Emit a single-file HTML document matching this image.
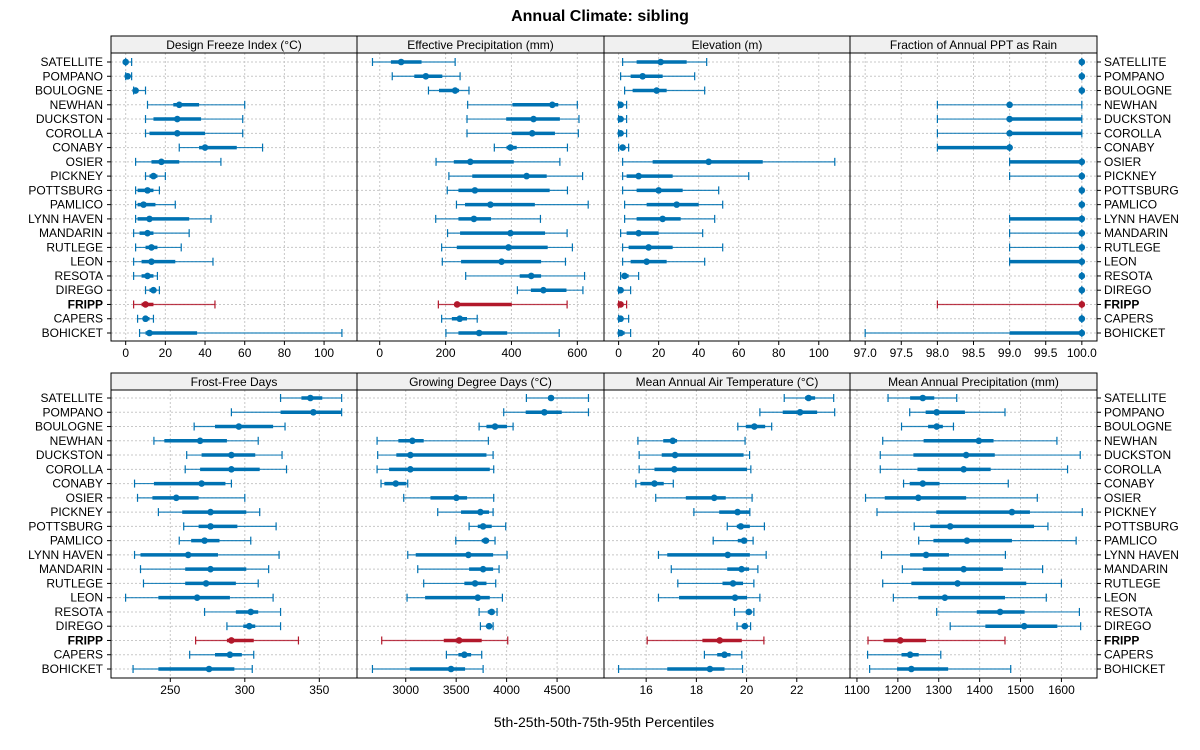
<!DOCTYPE html>
<html><head><meta charset="utf-8"><style>
html,body{margin:0;padding:0;background:#fff;}
svg{display:block;font-family:"Liberation Sans",sans-serif;}
</style></head><body>
<svg id="chart" width="1200" height="750" viewBox="0 0 1200 750" xmlns="http://www.w3.org/2000/svg">
<text x="600" y="21" text-anchor="middle" font-size="16" font-weight="bold">Annual Climate: sibling</text>
<text x="604" y="727" text-anchor="middle" font-size="14">5th-25th-50th-75th-95th Percentiles</text>
<g id="root"></g>
</svg>
<script>
const sites = ["SATELLITE","POMPANO","BOULOGNE","NEWHAN","DUCKSTON","COROLLA","CONABY","OSIER","PICKNEY","POTTSBURG","PAMLICO","LYNN HAVEN","MANDARIN","RUTLEGE","LEON","RESOTA","DIREGO","FRIPP","CAPERS","BOHICKET"];
const highlight = "FRIPP";
const dfi = [[0,0,0,0,3],[0,1,1,2,3],[4,4,5,6,10],[11,24,27,37,60],[10,14,26,38,59],[10,12,26,40,59],[27,37,40,56,69],[5,13,18,27,48],[10,12,14,16,20],[5,6,11,14,17],[5,6,9,15,25],[5,6,12,32,43],[4,7,11,14,32],[5,10,13,16,28],[4,8,13,25,44],[4,8,11,14,16],[10,12,14,15,17],[4,8,10,14,45],[6,9,10,12,14],[7,10,12,36,109]];
const effPpt = [[-22,34,65,127,229],[38,105,140,190,244],[148,180,229,241,271],[267,403,524,542,600],[265,384,467,547,605],[265,401,463,532,603],[348,385,397,416,570],[171,225,275,407,547],[210,281,446,507,616],[205,239,289,516,570],[233,259,336,471,633],[170,239,286,338,488],[206,244,397,502,569],[188,234,391,510,585],[190,247,370,490,564],[261,425,460,490,622],[418,459,497,567,617],[178,229,235,401,569],[188,219,243,265,296],[201,239,302,387,545]];
const elev = [[2,9,21,34,44],[1,6,12,22,38],[3,7,19,24,43],[0,0.3,1,1.7,4],[0,0.3,1,1.7,4],[0,0.3,1,1.7,4],[0,1,2,3,5],[2,17,45,72,108],[2,4,10,27,65],[2,9,20,32,50],[3,14,29,40,52],[3,9,22,31,48],[1,4,10,20,42],[2,5,15,27,52],[2,6,14,24,43],[1,2,3,5,10],[0,0.5,1,2,6],[0,0.5,1,2,4],[0,0.5,1,2,5],[0,0.5,1,3,6]];
const fracRain = [[100,100,100,100,100],[100,100,100,100,100],[100,100,100,100,100],[98,99,99,99,100],[98,99,99,100,100],[98,99,99,100,100],[98,98,99,99,99],[99,99,100,100,100],[99,100,100,100,100],[100,100,100,100,100],[100,100,100,100,100],[99,99,100,100,100],[99,100,100,100,100],[99,100,100,100,100],[99,99,100,100,100],[100,100,100,100,100],[100,100,100,100,100],[98,100,100,100,100],[100,100,100,100,100],[97,99,100,100,100]];
const ffd = [[324,338,344,352,365],[291,324,346,365,365],[266,280,296,319,327],[239,246,270,288,309],[261,271,291,307,325],[260,270,291,310,328],[226,239,271,287,291],[228,238,254,269,300],[242,258,277,301,310],[259,269,277,295,321],[256,264,273,283,304],[226,230,262,282,323],[230,260,277,301,316],[232,260,274,294,309],[220,242,268,290,319],[273,294,304,309,324],[288,299,303,307,324],[267,288,291,306,336],[263,280,290,298,306],[225,242,276,293,305]];
const gdd = [[4196,4414,4440,4467,4811],[3971,4189,4374,4546,4811],[3727,3800,3885,4004,4064],[2716,2927,3066,3178,3819],[2722,2907,3046,3800,3866],[2716,2835,3046,3833,3872],[2755,2788,2901,3007,3020],[2980,3245,3502,3608,3872],[3317,3548,3740,3826,3866],[3628,3714,3767,3852,3991],[3496,3753,3793,3826,3885],[3020,3099,3621,3866,4004],[3119,3628,3767,3866,3925],[3178,3581,3687,3800,3892],[3013,3192,3714,3833,3958],[3727,3813,3852,3879,3905],[3740,3800,3826,3852,3866],[2762,3377,3529,3753,4011],[3403,3522,3581,3648,3753],[2670,3040,3449,3588,3767]];
const maat = [[21.5,22.33,22.47,22.73,23.47],[20.53,21.44,22.13,22.81,23.51],[19.65,19.97,20.31,20.74,21.0],[15.67,16.68,17.06,17.23,19.94],[15.72,16.62,17.15,19.88,20.12],[15.72,16.33,17.12,20.02,20.17],[15.59,15.77,16.33,16.7,17.08],[16.38,17.58,18.71,19.17,20.22],[17.9,18.91,19.64,20.13,20.13],[19.23,19.61,19.77,20.13,20.71],[18.67,19.65,19.9,20.02,20.26],[16.49,16.84,19.25,20.13,20.78],[17.0,19.23,19.8,20.1,20.45],[17.26,19.04,19.46,19.86,20.29],[16.49,17.31,19.54,20.02,20.53],[19.52,19.97,20.09,20.16,20.29],[19.62,19.81,19.93,20.02,20.16],[16.04,18.24,18.93,19.81,20.69],[18.32,18.83,19.12,19.36,19.81],[14.9,16.84,18.54,19.12,19.84]];
const map = [[1176,1230,1261,1289,1344],[1229,1268,1295,1364,1462],[1209,1274,1295,1310,1336],[1163,1263,1398,1434,1589],[1157,1238,1367,1437,1646],[1157,1248,1361,1427,1615],[1214,1229,1261,1302,1470],[1121,1168,1250,1367,1541],[1149,1294,1479,1523,1651],[1240,1279,1328,1533,1567],[1251,1287,1369,1479,1636],[1160,1230,1269,1325,1463],[1211,1261,1361,1457,1554],[1163,1233,1346,1514,1600],[1189,1250,1315,1462,1563],[1295,1393,1450,1510,1644],[1328,1414,1509,1590,1647],[1127,1165,1206,1269,1462],[1126,1209,1230,1251,1305],[1131,1198,1233,1323,1476]];
const panelTitles = ["Design Freeze Index (\u00B0C)","Effective Precipitation (mm)","Elevation (m)","Fraction of Annual PPT as Rain","Frost-Free Days","Growing Degree Days (\u00B0C)","Mean Annual Air Temperature (\u00B0C)","Mean Annual Precipitation (mm)"];
const dfiTicks = [0,20,40,60,80,100];
const effTicks = [0,200,400,600];
const elevTicks = [0,20,40,60,80,100];
const fracTicks = ["97.0","97.5","98.0","98.5","99.0","99.5","100.0"];
const ffdTicks = [250,300,350];
const gddTicks = [3000,3500,4000,4500];
const maatTicks = [16,18,20,22];
const mapTicks = [1100,1200,1300,1400,1500,1600];
const domains = [[-7.4,116.6],[-69,681],[-7.3,115.6],[96.79,100.21],[210.2,375.3],[2517,4965],[14.32,24.12],[1083,1687]];

const NS="http://www.w3.org/2000/svg";
const root=document.getElementById('root');
function mk(tag,attrs,parent){const e=document.createElementNS(NS,tag);for(const k in attrs)e.setAttribute(k,attrs[k]);(parent||root).appendChild(e);return e;}
const cols=[[111,357],[357,604],[604,850],[850,1097]];
const rowsY=[{strip:36,top:53,bottom:341,y0:62},{strip:373,top:390,bottom:678,y0:398}];
const step=(333-62)/19;
const datasets=[dfi,effPpt,elev,fracRain,ffd,gdd,maat,map];
const tickSets=[dfiTicks,effTicks,elevTicks,fracTicks,ffdTicks,gddTicks,maatTicks,mapTicks];
const BLUE="#0072b2", RED="#b2182b";

for(let p=0;p<8;p++){
  const r=rowsY[Math.floor(p/4)], c=cols[p%4];
  const x0=c[0], x1=c[1], dom=domains[p];
  const sx=v=>x0+(v-dom[0])/(dom[1]-dom[0])*(x1-x0);
  const sy=i=>r.y0+i*step;
  const g=mk('g',{});
  
  
  const st=mk('rect',{x:x0,y:r.strip,width:x1-x0,height:r.top-r.strip,fill:'#f0f0f0',stroke:'#000','stroke-width':1},g);
  
  
  const stt=mk('text',{x:(x0+x1)/2,y:r.strip+13,'text-anchor':'middle','font-size':12},g);
  stt.textContent=panelTitles[p];
  
  
  tickSets[p].forEach(t=>{const v=parseFloat(t);const X=sx(v);
    mk('line',{x1:X,x2:X,y1:r.top,y2:r.bottom,stroke:'#c8c8c8','stroke-dasharray':'2,2','stroke-width':1},g);
    const tk=mk('line',{x1:X,x2:X,y1:r.bottom,y2:r.bottom+4,stroke:'#000'},g);
    
    
    const tl=mk('text',{x:X,y:r.bottom+16,'text-anchor':'middle','font-size':12},g);
    tl.textContent=t;
    
    
  });
  sites.forEach((s,i)=>{mk('line',{x1:x0,x2:x1,y1:sy(i),y2:sy(i),stroke:'#c8c8c8','stroke-dasharray':'2,2'},g);});
  datasets[p].forEach((d,i)=>{
    const col=sites[i]===highlight?RED:BLUE, y=sy(i);
    const m=mk('g',{},g);
    
    
    mk('line',{x1:sx(d[0]),x2:sx(d[4]),y1:y,y2:y,stroke:col,'stroke-width':1.2,'stroke-opacity':0.85},m);
    mk('line',{x1:sx(d[0]),x2:sx(d[0]),y1:y-4,y2:y+4,stroke:col,'stroke-width':1.2},m);
    mk('line',{x1:sx(d[4]),x2:sx(d[4]),y1:y-4,y2:y+4,stroke:col,'stroke-width':1.2},m);
    mk('line',{x1:sx(d[1]),x2:sx(d[3]),y1:y,y2:y,stroke:col,'stroke-width':3.5},m);
    mk('circle',{cx:sx(d[2]),cy:y,r:3.3,fill:col},m);
  });
  const fr=mk('rect',{x:x0,y:r.top,width:x1-x0,height:r.bottom-r.top,fill:'none',stroke:'#000','stroke-width':1},g);
  
  
}
rowsY.forEach(r=>{
  sites.forEach((s,i)=>{const y=r.y0+i*step+4;
    const bold=s===highlight?'bold':'normal';
    const a=mk('text',{x:103,y:y,'text-anchor':'end','font-size':12,'font-weight':bold});
    a.textContent=s;
    
    
    mk('line',{x1:107,x2:111,y1:y-4,y2:y-4,stroke:'#000'});
    const b=mk('text',{x:1104,y:y,'text-anchor':'start','font-size':12,'font-weight':bold});
    b.textContent=s;
    
    
    mk('line',{x1:1097,x2:1101,y1:y-4,y2:y-4,stroke:'#000'});
  });
});
</script>
</body></html>
